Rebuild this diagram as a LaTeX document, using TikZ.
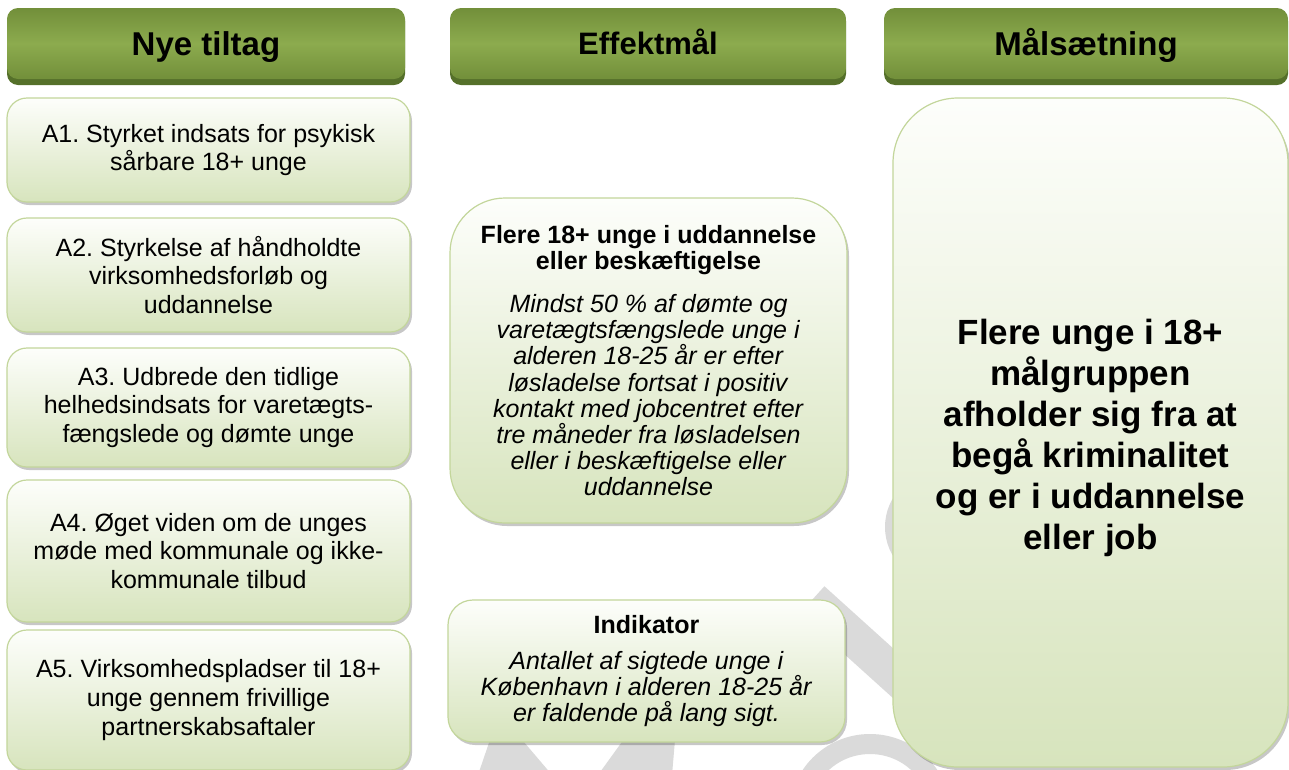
\documentclass[tikz,border=0pt]{standalone}
\usepackage{fontspec}
\setmainfont{Liberation Sans}
\usetikzlibrary{shadows}
\definecolor{hdrEdge}{HTML}{728F3A}
\definecolor{hdrMid}{HTML}{8CAB4E}
\definecolor{hdrDark}{HTML}{55702A}
\definecolor{boxTop}{HTML}{FDFEFB}
\definecolor{boxBot}{HTML}{D7E4BD}
\definecolor{boxLine}{HTML}{C3D69B}
\definecolor{wmGray}{HTML}{DADADA}
\tikzset{
  hdrbase/.style={rounded corners=11pt, fill=hdrDark, minimum height=75pt, inner sep=0pt},
  hdr/.style={rounded corners=11pt, top color=hdrEdge, bottom color=hdrEdge, middle color=hdrMid,
    minimum height=71pt, inner sep=0pt, text height=23.6pt, text depth=0pt,
    font=\fontsize{33}{36}\selectfont\bfseries, text=black},
  gbox/.style={draw=boxLine, line width=1.2pt, top color=boxTop, bottom color=boxBot,
    align=center, inner sep=0pt, text=black,
    drop shadow={shadow xshift=2pt, shadow yshift=-3pt, fill=black, opacity=0.22}},
  lbox/.style={gbox, rounded corners=20pt, minimum width=403pt, font=\fontsize{25}{28.8}\selectfont},
  wm/.style={wmGray, fill=wmGray},
}
\begin{document}
\frenchspacing
\begin{tikzpicture}[x=1pt,y=-1pt]
\useasboundingbox (0,0) rectangle (1289,769);
\fill[white] (0,0) rectangle (1289,769);

% watermark fragments
\fill[wm] (494,728) -- (512,728) -- (552,775) -- (478,775) -- cycle;
\fill[wm] (632,728) -- (676,728) -- (672,775) -- (598,775) -- cycle;
\draw[wmGray, line width=37pt] (812,600) -- (915,693);
\draw[wmGray, line width=17pt] (941,527) circle (47.5);
\draw[wmGray, line width=20pt] (870,815) circle (71);

% headers
\node[hdrbase, minimum width=398pt] (h1b) at (206,47.5) {};
\node[hdr, minimum width=398pt] (h1) at (206,43.5) {Nye tiltag};
\node[hdrbase, minimum width=396pt] (h2b) at (648,47.5) {};
\node[hdr, minimum width=396pt, text height=22.2pt, font=\fontsize{31}{34}\selectfont\bfseries] (h2) at (648,43.5) {Effektmål};
\node[hdrbase, minimum width=404pt] (h3b) at (1086,47.5) {};
\node[hdr, minimum width=404pt] (h3) at (1086,43.5) {Målsætning};

% left column
\node[lbox, minimum height=104pt] (a1) at (208.5,150) {A1. Styrket indsats for psykisk\\sårbare 18+ unge};
\node[lbox, minimum height=114pt] (a2) at (208.5,275) {A2. Styrkelse af håndholdte\\virksomhedsforløb og\\uddannelse};
\node[lbox, minimum height=119pt] (a3) at (208.5,407.5) {A3. Udbrede den tidlige\\helhedsindsats for varetægts-\\fængslede og dømte unge};
\node[lbox, minimum height=142pt] (a4) at (208.5,551) {A4. Øget viden om de unges\\møde med kommunale og ikke-\\kommunale tilbud};
\node[lbox, minimum height=140pt] (a5) at (208.5,700) {A5. Virksomhedspladser til 18+\\unge gennem frivillige\\partnerskabsaftaler};

% middle column
\node[gbox, rounded corners=55pt, minimum width=397pt, minimum height=325pt,
  font=\fontsize{25}{26.2}\selectfont] (eff) at (648.5,360.5)
  {\textbf{Flere 18+ unge i uddannelse}\\\textbf{eller beskæftigelse}\\[17pt]
   \textit{Mindst 50 \% af dømte og}\\\textit{varetægtsfængslede unge i}\\\textit{alderen 18-25 år er efter}\\\textit{løsladelse fortsat i positiv}\\\textit{kontakt med jobcentret efter}\\\textit{tre måneder fra løsladelsen}\\\textit{eller i beskæftigelse eller}\\\textit{uddannelse}};
\node[gbox, rounded corners=25pt, minimum width=397pt, minimum height=142pt,
  font=\fontsize{25}{26.2}\selectfont] (ind) at (646.5,671)
  {\textbf{Indikator}\\[10pt]
   \textit{Antallet af sigtede unge i}\\\textit{København i alderen 18-25 år}\\\textit{er faldende på lang sigt.}};

% right column
\node[gbox, rounded corners=65pt, minimum width=395pt, minimum height=669pt] (goal) at (1090.5,432.5) {};
\node[align=center, inner sep=0pt, font=\fontsize{35}{41}\selectfont\bfseries] (goaltxt) at (1090.5,437.5)
  {Flere unge i 18+\\målgruppen\\afholder sig fra at\\begå kriminalitet\\og er i uddannelse\\eller job};
\end{tikzpicture}
\end{document}
